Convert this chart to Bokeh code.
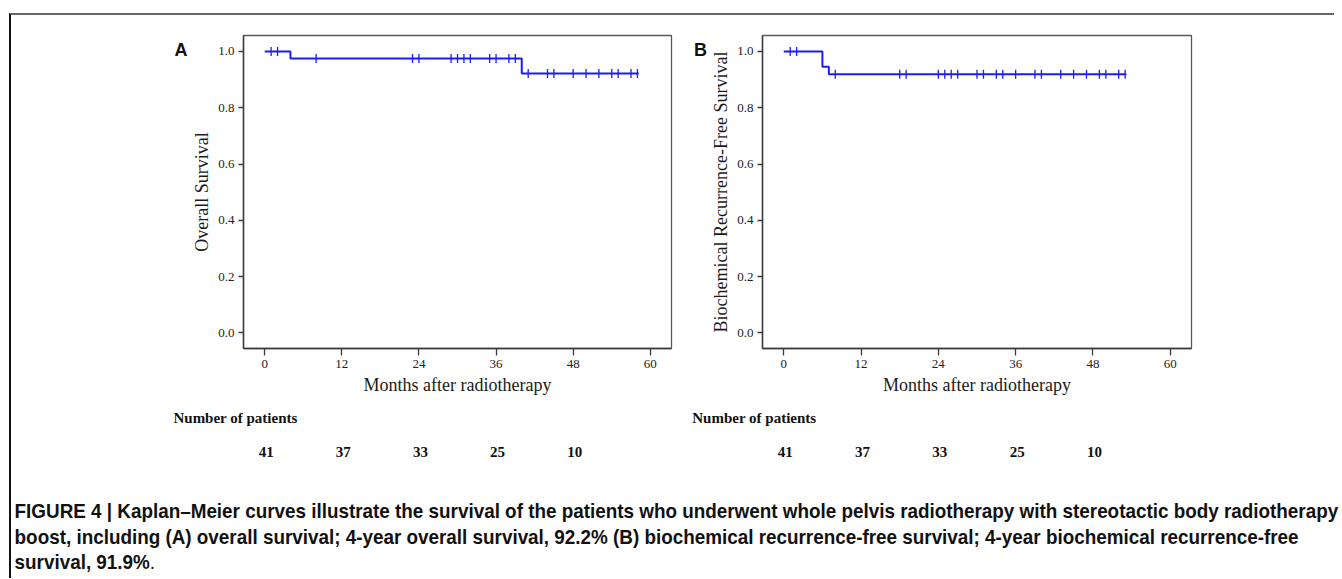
import numpy as np
from bokeh.plotting import figure
from bokeh.models import Div, FixedTicker, Range1d, PrintfTickFormatter
from bokeh.layouts import row, column
from bokeh.core.properties import value
from bokeh.embed import file_html
from bokeh.resources import INLINE

# ---------------- data ----------------
# Panel A: overall survival (step function: month of change -> survival after it)
a_step_months = [0, 4, 40, 58.2]
a_survival = [1.0, 0.975, 0.922, 0.922]
a_censor_months = [1, 2, 8, 23, 24, 29, 30, 31, 32, 35, 36, 38, 39,
                   41, 44, 45, 48, 50, 52, 54, 55, 57, 58]

# Panel B: biochemical recurrence-free survival
b_step_months = [0, 6, 7, 53.2]
b_survival = [1.0, 0.946, 0.919, 0.919]
b_censor_months = [1, 2, 8, 18, 19, 24, 25, 26, 27, 30, 31, 33, 34, 36,
                   39, 40, 43, 45, 47, 49, 50, 52, 53]

risk_months = [0, 12, 24, 36, 48]
risk_a = [41, 37, 33, 25, 10]
risk_b = [41, 37, 33, 25, 10]

x_ticks = [0, 12, 24, 36, 48, 60]
y_ticks = [0.0, 0.2, 0.4, 0.6, 0.8, 1.0]

x_label = "Months after radiotherapy"
y_label_a = "Overall Survival"
y_label_b = "Biochemical Recurrence-Free Survival"
risk_title = "Number of patients"

caption_lines = [
    "FIGURE 4 | Kaplan–Meier curves illustrate the survival of the patients who underwent whole pelvis radiotherapy with stereotactic body radiotherapy",
    "boost, including (A) overall survival; 4-year overall survival, 92.2% (B) biochemical recurrence-free survival; 4-year biochemical recurrence-free",
    "survival, 91.9%",
]

# ---------------- styling / geometry ----------------
SERIF = "Liberation Serif"
BLUE = "#1c1cf5"
X0, X1 = -3.3, 63.3
Y0, Y1 = -0.0554, 1.0568
TOP_H = 390      # height of the plot row
RISK_H = 93      # height of the risk-table row
MB_LEFT = 55
FRAME_W_A, FRAME_W_B = 428, 429


def step_value(months, surv, t):
    idx = np.searchsorted(np.asarray(months), np.asarray(t), side="right") - 1
    return np.asarray(surv)[idx]


def make_panel(frame_w, mbr, months, surv, censor, ylabel):
    p = figure(width=MB_LEFT + frame_w + mbr, height=TOP_H,
               x_range=Range1d(X0, X1), y_range=Range1d(Y0, Y1),
               output_backend="svg", toolbar_location=None,
               min_border_left=MB_LEFT, min_border_right=mbr,
               min_border_top=20, min_border_bottom=TOP_H - 20 - 313)
    p.grid.visible = False
    p.outline_line_color = "#5a5a5a"
    p.outline_line_width = 1.3

    for ax in (p.xaxis[0], p.yaxis[0]):
        ax.axis_line_color = "#3a3a3a"
        ax.axis_line_width = 1.4
        ax.major_tick_line_color = "#3a3a3a"
        ax.major_tick_line_width = 1.3
        ax.major_tick_in = 0
        ax.minor_tick_line_color = None
        ax.major_label_text_font = SERIF
        ax.major_label_text_font_size = "13px"
        ax.major_label_text_color = "#222222"
        ax.axis_label_text_font = SERIF
        ax.axis_label_text_font_size = "18px"
        ax.axis_label_text_font_style = "normal"
        ax.axis_label_text_color = "#1a1a1a"

    p.xaxis.ticker = FixedTicker(ticks=x_ticks)
    p.xaxis.major_tick_out = 7
    p.xaxis.major_label_standoff = 4
    p.xaxis.axis_label = x_label
    p.xaxis.axis_label_standoff = 4

    p.yaxis.ticker = FixedTicker(ticks=y_ticks)
    p.yaxis.formatter = PrintfTickFormatter(format="%.1f")
    p.yaxis.major_tick_out = 5
    p.yaxis.major_label_standoff = 4
    p.yaxis.axis_label = ylabel
    p.yaxis.axis_label_standoff = 3

    p.step(months, surv, mode="after", line_color=BLUE, line_width=2)
    cy = step_value(months, surv, censor)
    p.scatter(censor, cy, marker="dash", angle=np.pi / 2, size=9,
              line_color=BLUE, line_width=1.3)
    return p


def make_letter(width, letter, lx):
    p = figure(width=width, height=TOP_H, x_range=Range1d(0, width),
               y_range=Range1d(0, TOP_H), output_backend="svg", toolbar_location=None,
               x_axis_location=None, y_axis_location=None, min_border=0)
    p.grid.visible = False
    p.outline_line_color = None
    p.text(x=[lx], y=[TOP_H - 18], text=[letter], text_font=value("Liberation Sans"),
           text_font_style="bold", text_font_size="18px", text_align="center",
           text_baseline="middle", text_color="#111111")
    return p


def make_risk(width, frame_left_offset, frame_w, counts):
    ppm = frame_w / (X1 - X0)
    start = X0 - frame_left_offset / ppm
    p = figure(width=width, height=RISK_H, x_range=Range1d(start, start + width / ppm),
               y_range=Range1d(0, 1), output_backend="svg", toolbar_location=None,
               x_axis_location=None, y_axis_location=None, min_border=0)
    p.grid.visible = False
    p.outline_line_color = None
    p.text(x=[-14.2], y=[0.87], text=[risk_title], text_font=value(SERIF),
           text_font_style="bold", text_font_size="15px", text_align="left",
           text_baseline="middle", text_color="#111111")
    p.text(x=risk_months, y=[0.505] * len(risk_months), text=[str(c) for c in counts],
           x_offset=1.5, text_font=value(SERIF), text_font_style="bold",
           text_font_size="15px", text_align="center", text_baseline="middle",
           text_color="#111111")
    return p


letA = make_letter(177, "A", 169.5)
pA = make_panel(FRAME_W_A, 10, a_step_months, a_survival, a_censor_months, y_label_a)
letB = make_letter(26, "B", 19)
pB = make_panel(FRAME_W_B, 143, b_step_months, b_survival, b_censor_months, y_label_b)

riskA = make_risk(177 + pA.width, 177 + MB_LEFT, FRAME_W_A, risk_a)
riskB = make_risk(26 + pB.width, 26 + MB_LEFT, FRAME_W_B, risk_b)

cap_html = ("<b>" + caption_lines[0] + "</b><br><b>" + caption_lines[1] +
            "</b><br><b>" + caption_lines[2] + "</b>.")
cap = Div(text=cap_html, width=1320, height=80, margin=0,
          styles={"font-family": "'Liberation Sans', Arial, sans-serif",
                  "font-size": "21px", "line-height": "25.5px", "white-space": "nowrap",
                  "color": "#111111", "padding-left": "4px", "overflow": "visible",
                  "transform": "scaleX(0.898)", "transform-origin": "0 0"})

layout = column(row(letA, pA, letB, pB), row(riskA, riskB), cap, margin=(13, 0, 0, 9),
                styles={"border-top": "2px solid #666666", "border-left": "2px solid #111111"})

open("out.html", "w").write(file_html(layout, INLINE))
